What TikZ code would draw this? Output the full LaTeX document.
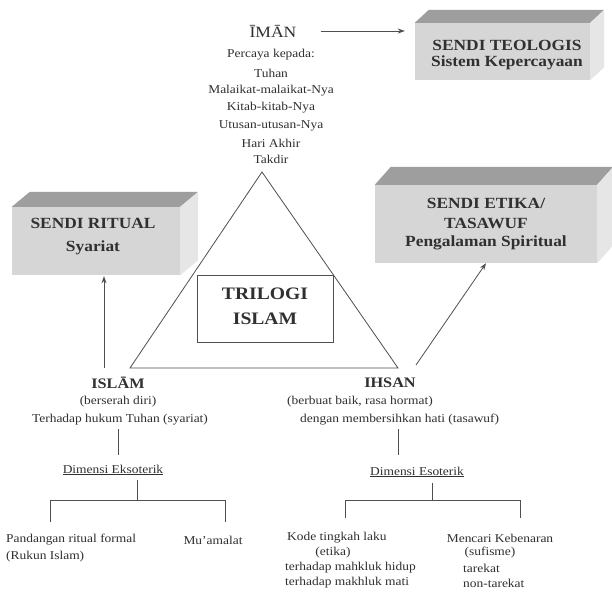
\documentclass[tikz,border=0pt]{standalone}
\usepackage{fontspec}
\setmainfont{Liberation Serif}[FakeStretch=1.12]
\usetikzlibrary{calc,arrows.meta}
\definecolor{ink}{HTML}{303030}
\definecolor{facefront}{HTML}{D6D6D6}
\definecolor{facetop}{HTML}{9E9E9E}
\definecolor{faceside}{HTML}{E6E6E6}
\tikzset{
  txt/.style={inner sep=0pt, text=ink, font=\fontsize{12}{14}\selectfont},
  head/.style={inner sep=0pt, text=ink, font=\bfseries\fontsize{14.5}{16}\selectfont},
  boxtxt/.style={inner sep=0pt, text=ink, font=\bfseries\fontsize{15.5}{18}\selectfont},
  front/.style={fill=facefront, draw=none, inner sep=0pt},
  ln/.style={draw=ink!85, line width=0.8pt},
  arr/.style={ln, -{Stealth[length=7pt,width=5pt]}},
}
\newcommand\boxsides[2]{%
  \fill[facetop] (#1.north west) -- ++(#2) -- ($(#1.north east)+(#2)$) -- (#1.north east) -- cycle;
  \fill[faceside] (#1.north east) -- ++(#2) -- ($(#1.south east)+(#2)$) -- (#1.south east) -- cycle;
}
\begin{document}
\begin{tikzpicture}[x=1pt,y=-1pt]
\useasboundingbox[fill=white] (0,0) rectangle (612,595);

% boxes
\node[front, minimum width=175, minimum height=57] (teo) at (502.5,51.5) {};
\boxsides{teo}{14,-13}
\node[boxtxt] (teo1) at (507,45) {SENDI TEOLOGIS};
\node[boxtxt] (teo2) at (507,63) {Sistem Kepercayaan};

\node[front, minimum width=168, minimum height=68] (rit) at (96,241) {};
\boxsides{rit}{18,-15}
\node[boxtxt] (rit1) at (93,223) {SENDI RITUAL};
\node[boxtxt] (rit2) at (93,248) {Syariat};

\node[front, minimum width=222, minimum height=78] (eti) at (486,224) {};
\boxsides{eti}{16,-18}
\node[boxtxt] (eti1) at (486,203) {SENDI ETIKA/};
\node[boxtxt] (eti2) at (486,223) {TASAWUF};
\node[boxtxt] (eti3) at (486,243) {Pengalaman Spiritual};

% IMAN
\node[inner sep=0pt, text=ink, font=\fontsize{15.7}{17}\selectfont] (iman) at (273,31) {ĪMĀN};
\node[txt] (im1) at (271,55) {Percaya kepada:};
\node[txt] (im2) at (271,73) {Tuhan};
\node[txt] (im3) at (271,91) {Malaikat-malaikat-Nya};
\node[txt] (im4) at (271,108) {Kitab-kitab-Nya};
\node[txt] (im5) at (271,126) {Utusan-utusan-Nya};
\node[txt] (im6) at (271,143) {Hari Akhir};
\node[txt] (im7) at (271,159) {Takdir};
\draw[arr, shorten <=24pt, shorten >=10pt] (iman.east) -- (iman.east -| teo.west);

% triangle
\coordinate (tA) at (262,172);
\coordinate (tL) at (130,368);
\coordinate (tR) at (398,368);
\draw[ln] (tA) -- (tL) -- (tR) -- cycle;
\node[draw=ink!85, line width=0.8pt, minimum width=136, minimum height=67, inner sep=0pt] (tri) at (265,308.5) {};
\node[inner sep=0pt, text=ink, font=\bfseries\fontsize{17.5}{20}\selectfont] (tri1) at (265,294) {TRILOGI};
\node[inner sep=0pt, text=ink, font=\bfseries\fontsize{17.5}{20}\selectfont] (tri2) at (265,319) {ISLAM};

% ISLAM
\node[head] (islam) at (118,383) {ISLĀM};
\node[txt] (islam1) at (118,402) {(berserah diri)};
\node[txt] (islam2) at (120,420) {Terhadap hukum Tuhan (syariat)};
\coordinate (a1) at (104,368);
\draw[arr, shorten >=1pt] (a1) -- (a1 |- rit.south);

% IHSAN
\node[head] (ihsan) at (390,383) {IHSAN};
\node[txt, anchor=west] (ihsan1) at (287,402) {(berbuat baik, rasa hormat)};
\node[txt, anchor=west] (ihsan2) at (300,420) {dengan membersihkan hati (tasawuf)};
\coordinate (a2) at (416,365);
\draw[arr] (a2) -- (eti.south);

% left branch
\coordinate (l0) at (118,429);
\coordinate (l1) at (118,455);
\draw[ln] (l0) -- (l1);
\node[txt] (eks) at (113,470) {\underline{Dimensi Eksoterik}};
\coordinate (lb) at (137,500);
\draw[ln] (lb |- 0,480) -- (lb);
\coordinate (lL) at (50,500);
\coordinate (lR) at (225,500);
\draw[ln] (lL |- 0,522) -- (lL) -- (lR) -- (lR |- 0,522);
\node[txt, anchor=west] (pand1) at (6,540) {Pandangan ritual formal};
\node[txt, anchor=west] (pand2) at (6,557) {(Rukun Islam)};
\node[txt] (mua) at (213,540) {Mu'amalat};

% right branch
\coordinate (r0) at (398,429);
\coordinate (r1) at (398,455);
\draw[ln] (r0) -- (r1);
\node[txt] (eso) at (417,472) {\underline{Dimensi Esoterik}};
\coordinate (rb) at (432,500);
\draw[ln] (rb |- 0,483) -- (rb);
\coordinate (rL) at (345,500);
\coordinate (rR) at (520,500);
\draw[ln] (rL |- 0,518) -- (rL) -- (rR) -- (rR |- 0,518);
\node[txt, anchor=west] (kode1) at (287,538) {Kode tingkah laku};
\node[txt] (kode2) at (333,553) {(etika)};
\node[txt, anchor=west] (kode3) at (285,568) {terhadap mahkluk hidup};
\node[txt, anchor=west] (kode4) at (285,583) {terhadap makhluk mati};
\node[txt] (men1) at (500,538) {Mencari Kebenaran};
\node[txt] (men2) at (490,553) {(sufisme)};
\node[txt, anchor=west] (men3) at (463,568) {tarekat};
\node[txt, anchor=west] (men4) at (463,583) {non-tarekat};
\end{tikzpicture}
\end{document}
